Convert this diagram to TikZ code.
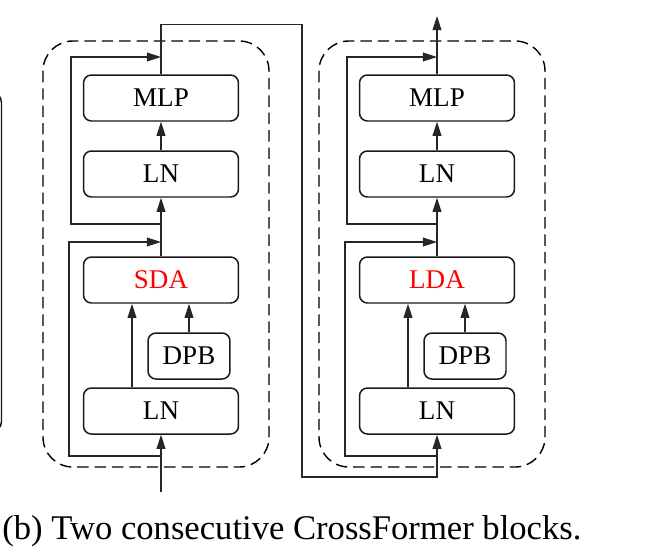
\documentclass[tikz,border=0pt]{standalone}
\usepackage{fontspec}
\setmainfont{Liberation Serif}
\usetikzlibrary{arrows.meta,positioning,calc}

\tikzset{
    blockbox/.style={draw=black!90, line width=0.85pt, rounded corners=4.5pt, minimum width=3.1cm, minimum height=0.92cm, inner sep=0pt, font=\fontsize{15.4}{18}\selectfont},
    framebox/.style={draw=black, line width=0.8pt, dash pattern=on 6.5pt off 3.4pt, rounded corners=17pt},
    link/.style={draw=black!85, line width=0.65pt},
    flow/.style={link, -{Triangle[length=8pt, width=5pt]}}
}

\begin{document}
\begin{tikzpicture}[x=0.02cm, y=-0.02cm]
        \useasboundingbox (0, 0) rectangle (659, 555);

        % Cut-off box on the left
        \draw[line width=0.85pt, draw=black!90, rounded corners=6pt] (-20, 92) -- (1.5, 92) -- (1.5, 432) -- (-20, 432);

        % Two blocks
        \foreach \i/\dx/\att in {A/0/SDA, B/276/LDA} {
            \draw[framebox] (43+\dx, 41) rectangle (269+\dx, 467);

            \node[blockbox] (lnin\i) at (161+\dx, 411) {LN};
            \node[blockbox, minimum width=1.64cm] (dpb\i) at (189+\dx, 356) {DPB};
            \node[blockbox, text=red] (attn\i) at (161+\dx, 280) {\att};
            \node[blockbox] (lnmid\i) at (161+\dx, 174) {LN};
            \node[blockbox] (mlp\i) at (161+\dx, 98) {MLP};

            \coordinate (split\i) at (161+\dx, 456);
            \coordinate (add\i) at (161+\dx, 242);
            \coordinate (skip\i) at (161+\dx, 224);
            \coordinate (addtop\i) at (161+\dx, 57);

            % main path
            \draw[flow] ($(lnin\i.north)+(-29, 0)$) -- ($(attn\i.south)+(-29, 0)$);
            \draw[flow] (dpb\i.north) -- (dpb\i.north |- attn\i.south);
            \draw[flow] (attn\i.north) -- (lnmid\i.south);
            \draw[flow] (lnmid\i.north) -- (mlp\i.south);

            % residual connections
            \draw[flow] (split\i) -- ++(-92, 0) |- (add\i);
            \draw[flow] (skip\i) -- ++(-90, 0) |- (addtop\i);
        }

        % Input, link and output
        \coordinate (input) at (161, 492);
        \coordinate (output) at (437, 16);
        \draw[flow] (input) -- (lninA.south);
        \draw[flow] (mlpA.north) -- ++(0, -50) -| (302, 477) -| (lninB.south);
        \draw[flow] (mlpB.north) -- (output);

        % Caption
        \node[anchor=base west, inner sep=0pt, font=\fontsize{19.7}{24}\selectfont] (caption) at (2, 539) {(b) Two consecutive CrossFormer blocks.};
    \end{tikzpicture}
\end{document}
